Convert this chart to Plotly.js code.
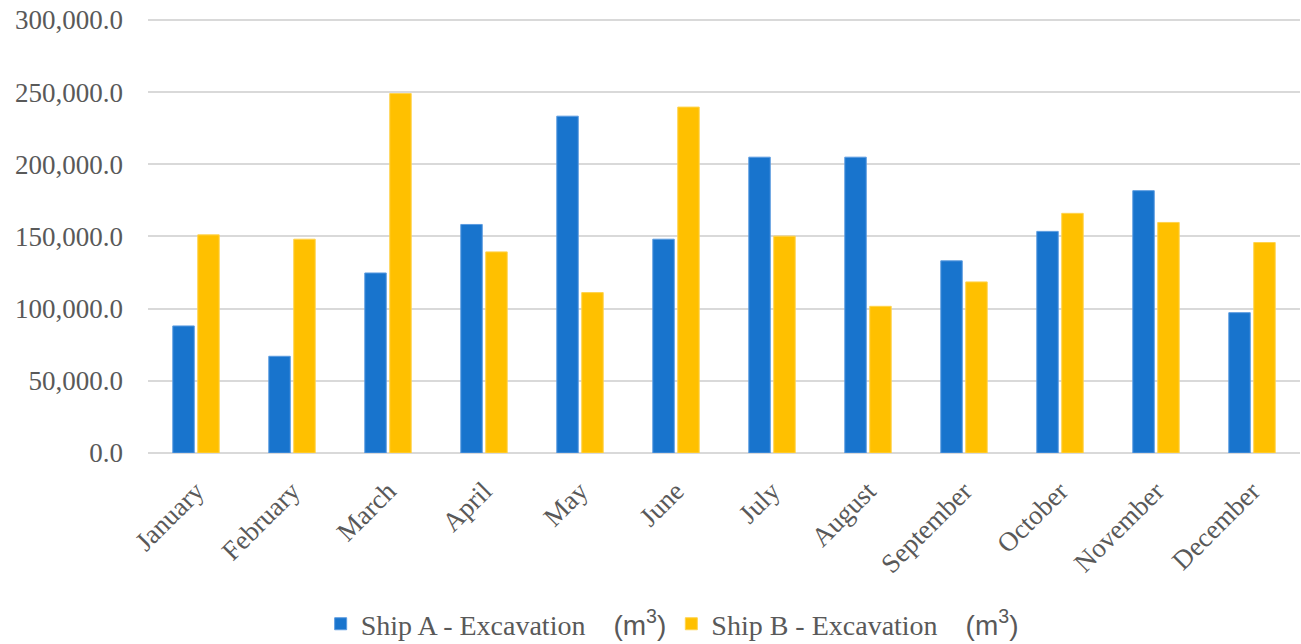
<!DOCTYPE html>
<html>
<head>
<meta charset="utf-8">
<script src="https://cdn.plot.ly/plotly-3.0.1.min.js"></script>
<style>html,body{margin:0;padding:0;background:#fff;}#chart{width:1301px;height:644px;}</style>
</head>
<body>
<div id="chart"></div>
<script>
const months = ["January","February","March","April","May","June","July","August","September","October","November","December"];
const shipA = [88000, 67000, 124700, 158300, 233300, 148100, 204900, 204900, 133100, 153500, 181700, 97200];
const shipB = [151100, 148100, 249000, 139300, 111100, 239600, 150200, 101600, 118500, 166000, 159700, 145800];
const nameA = 'Ship A - Excavation&nbsp;&nbsp;&nbsp; <span style="font-family:Liberation Sans">(m<sup>3</sup>)</span>';
const nameB = 'Ship B - Excavation&nbsp;&nbsp;&nbsp; <span style="font-family:Liberation Sans">(m<sup>3</sup>)</span>';

const traces = [
  {type:'bar', x: months, y: shipA, name: nameA, marker:{color:'#1874CD', line:{color:'#5b9be0', width:1}}},
  {type:'bar', x: months, y: shipB, name: nameB, marker:{color:'#FFC000', line:{color:'#ffd34d', width:1}}}
];
const layout = {
  width:1301, height:644,
  margin:{l:148, r:1, t:17, b:191, autoexpand:false},
  paper_bgcolor:'#fff', plot_bgcolor:'#fff',
  font:{family:'Liberation Serif, Times New Roman, serif', size:27, color:'#595959'},
  barmode:'group', bargap:0.48, bargroupgap:0.14,
  xaxis:{automargin:false, tickangle:-45, showgrid:false, showline:false, ticks:'', ticklabelstandoff:16, tickfont:{size:27, color:'#595959'}},
  yaxis:{automargin:false, range:[0,302000], tick0:0, dtick:50000, tickformat:',.1f', gridcolor:'#d9d9d9', gridwidth:2, zeroline:true, zerolinecolor:'#d9d9d9', zerolinewidth:2, showline:false, ticks:'', ticklabelstandoff:24, tickfont:{size:27, color:'#595959'}},
  showlegend:true,
  legend:{orientation:'h', x:0.455, xanchor:'center', yref:'container', y:0.031, yanchor:'middle', font:{size:28, color:'#595959'}, itemwidth:30, tracegroupgap:0}
};
Plotly.newPlot('chart', traces, layout, {displayModeBar:false, staticPlot:true});
</script>
</body>
</html>
